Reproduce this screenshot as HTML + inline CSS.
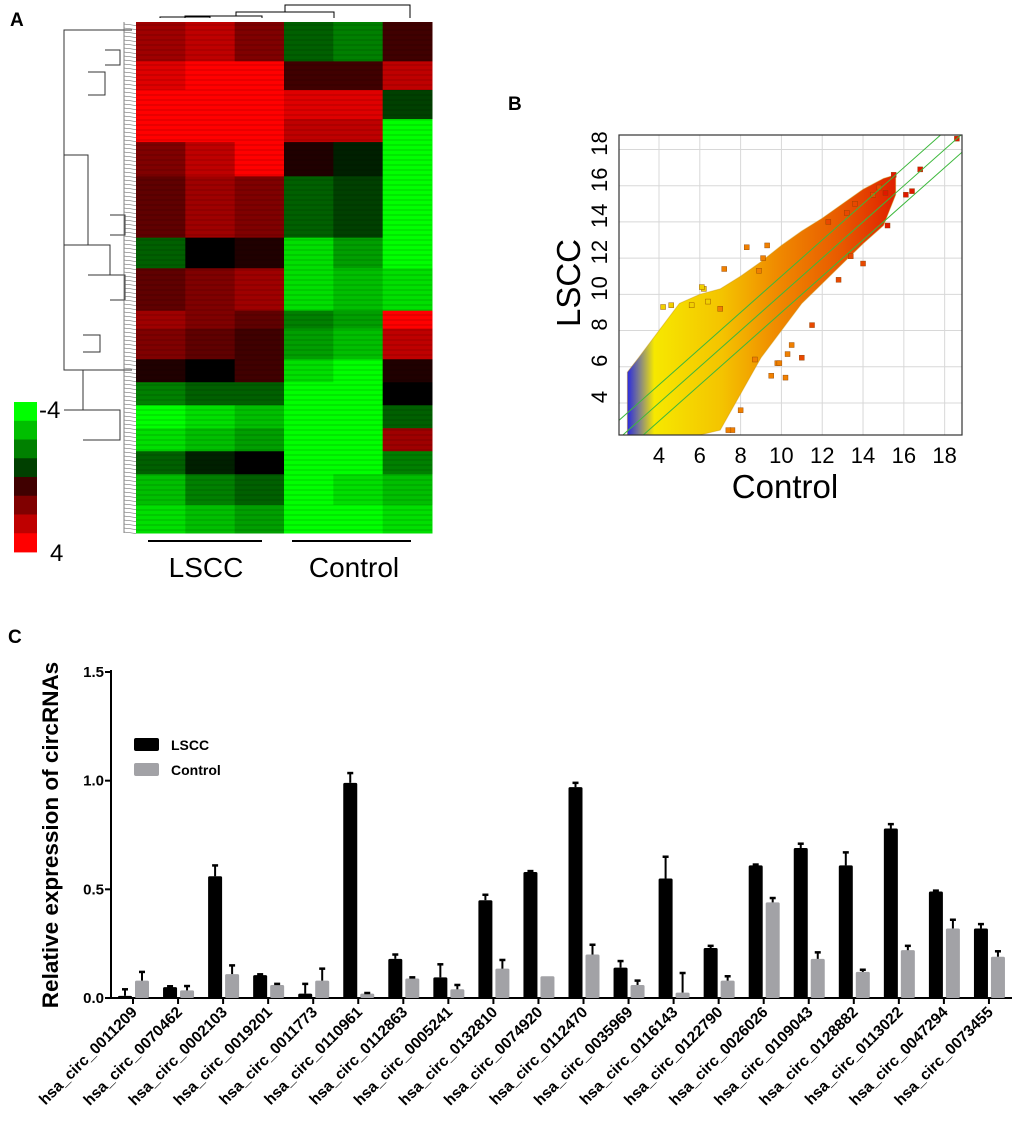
<!DOCTYPE html>
<html><head><meta charset="utf-8"><style>
html,body{margin:0;padding:0;background:#fff;}
svg{display:block;font-family:"Liberation Sans",Arial,sans-serif;}
</style></head><body>
<svg id="fig" width="1020" height="1124" viewBox="0 0 1020 1124">
<text x="10" y="26" font-size="19" font-weight="bold">A</text>
<text x="508" y="110" font-size="19" font-weight="bold">B</text>
<text x="8" y="643" font-size="19" font-weight="bold">C</text>
<g id="heat"></g>
<g id="scatter"></g>
<g id="bars"></g>
</svg>
<script>
const NS="http://www.w3.org/2000/svg";
function mk(parent,tag,attrs,name,txt){const e=document.createElementNS(NS,tag);for(const k in attrs)e.setAttribute(k,attrs[k]);


if(txt!==undefined)e.textContent=txt;parent.appendChild(e);return e;}

/* ---------------- Heatmap ---------------- */
const heatBlockStart=[0,0.077,0.133,0.19,0.235,0.302,0.422,0.482,0.565,0.6,0.66,0.705,0.75,0.795,0.84,0.885,0.945];
const heatValues=[
[2.5,3,2,-1.5,-2,1],
[3.5,4,4,1,1,3],
[4,4,4,3.5,3.5,-1],
[4,4,4,3,3,-4],
[2,3,4,0.5,-0.5,-4],
[1.5,2.5,2,-1.5,-1,-4],
[-1.5,0,0.5,-3.5,-2.5,-4],
[1.5,2,2.5,-3.5,-3,-3.5],
[2.5,2,1.5,-2,-2.5,4],
[2,1.5,1,-2.5,-3,3],
[0.5,0,1,-3.5,-4,0.5],
[-2,-1.5,-1.5,-4,-4,0],
[-4,-3.5,-3,-4,-4,-1.5],
[-3.5,-3,-2.5,-4,-4,2.5],
[-1.5,-0.5,0,-4,-4,-2],
[-3,-2,-1.5,-4,-3.5,-3],
[-3.5,-3,-2.5,-4,-4,-3.5]];
const colorbarLevels=[-4,-3,-2,-1,1,2,3,4];
function heatColor(v){v=Math.max(-4,Math.min(4,v));
 if(v<0){const g=Math.round(255*(-v/4));return `rgb(0,${g},0)`;}
 const r=Math.round(255*(v/4));return `rgb(${r},0,0)`;}
(function(){
 const g=document.getElementById('heat');
 const X0=136,X1=432,Y0=22,Y1=533,cw=(X1-X0)/6,H=Y1-Y0;
 heatValues.forEach((row,i)=>{
  const y=Y0+heatBlockStart[i]*H;
  const yn=Y0+(i+1<heatBlockStart.length?heatBlockStart[i+1]:1)*H;
  row.forEach((v,j)=>{
   mk(g,'rect',{x:X0+j*cw,y:y,width:cw+0.5,height:yn-y+0.5,fill:heatColor(v)},'heatmap-cell');
  });
 });
 for(let y=Y0+3;y<Y1;y+=5){mk(g,'line',{x1:X0,x2:X1,y1:y,y2:y,stroke:'#000','stroke-opacity':0.18,'stroke-width':1},'heatmap-row-texture');}
 const top=[[185,18,185,16,262,16,262,18],[236,16,236,12,334,12,334,18],[285,12,285,5,410,5,410,18],[160,18,160,17,210,17,210,18]];
 top.forEach(p=>mk(g,'polyline',{points:`${p[0]},${p[1]} ${p[2]},${p[3]} ${p[4]},${p[5]} ${p[6]},${p[7]}`,fill:'none',stroke:'#000','stroke-width':1},'column-dendrogram'));
 const L=[[132,30,64,155,132,370],[88,72,105,50,105,95],[64,155,88,72,88,245],[88,245,110,215,110,275],[64,370,83,335,83,410],[83,335,100,318,100,352],[83,410,120,390,120,440],[105,50,120,35,120,65],[110,215,125,190,125,235],[110,275,125,265,125,300]];
 L.forEach(p=>mk(g,'polyline',{points:`${p[0]+0},${p[1]} ${p[2]},${p[1]} ${p[2]},${p[5]} ${p[0]},${p[5]}`,fill:'none',stroke:'#333','stroke-width':1},'row-dendrogram'));
 for(let y=Y0+2;y<Y1;y+=4){mk(g,'line',{x1:124,x2:136,y1:y,y2:y+1.5,stroke:'#555','stroke-width':0.6},'row-dendrogram-leaf');}
 mk(g,'line',{x1:124,x2:124,y1:Y0,y2:Y1,stroke:'#666','stroke-width':0.8},'row-dendrogram-leaf');
 const cbX=14,cbY=402,cbH=150/8;
 colorbarLevels.forEach((v,i)=>mk(g,'rect',{x:cbX,y:cbY+i*cbH,width:23,height:cbH+0.4,fill:heatColor(v)},'colorbar-swatch'));
 mk(g,'text',{x:39,y:418,'font-size':24},'colorbar-min-label','-4');
 mk(g,'text',{x:50,y:561,'font-size':24},'colorbar-max-label','4');
 mk(g,'line',{x1:148,x2:262,y1:541,y2:541,stroke:'#000','stroke-width':2},'lscc-group-bar');
 mk(g,'line',{x1:292,x2:411,y1:541,y2:541,stroke:'#000','stroke-width':2},'control-group-bar');
 mk(g,'text',{x:206,y:577,'font-size':28,'text-anchor':'middle'},'lscc-group-label','LSCC');
 mk(g,'text',{x:354,y:577,'font-size':28,'text-anchor':'middle'},'control-group-label','Control');
})();

/* ---------------- Scatter ---------------- */
const bandX=[2.45,3,4,5,6,7,8,9,10,11,12,13,14,15,15.6];
const bandUpper=[5.7,6.5,8,9.5,10,10.3,11,11.8,12.7,13.5,14.2,15,15.8,16.4,16.6];
const bandLower=[2.23,2.23,2.23,2.23,2.23,2.5,4.5,6.5,8,9.5,10.6,11.7,12.8,13.8,15.5];
const outX=[6.2,6.1,7.2,8.3,9.3,9.5,10.2,10.5,9.8,11.5,12.8,13.4,14,15.2,16.1,16.4,16.8,18.6,15.5,15.1,14.8,13.2,8.0,7.6,7.4,8.7,9.9,10.3,11.0,5.6,6.4,7.0,8.9,9.1,12.3,13.6,14.5,4.2,4.6];
const outY=[10.3,10.4,11.4,12.6,12.7,5.5,5.4,7.2,6.2,8.3,10.8,12.1,11.7,13.8,15.5,15.7,16.9,18.6,16.6,15.6,15.9,14.5,3.6,2.5,2.5,6.4,6.2,6.7,6.5,9.4,9.6,9.2,11.3,12.0,14.0,15.0,15.5,9.3,9.4];
const scXTicks=[4,6,8,10,12,14,16,18];
const scYTicks=[4,6,8,10,12,14,16,18];
(function(){
 const g=document.getElementById('scatter');
 const PX0=619,PX1=962,PY0=135,PY1=435;
 const xmin=2.04,xmax=18.85,ymin=2.23,ymax=18.8;
 const sx=v=>PX0+(v-xmin)/(xmax-xmin)*(PX1-PX0);
 const sy=v=>PY1-(v-ymin)/(ymax-ymin)*(PY1-PY0);
 const defs=mk(g,'defs',{},'scatter-defs');
 const lg=mk(defs,'linearGradient',{id:'bandGrad',x1:0,x2:1,y1:0,y2:0},'band-gradient');
 [[0,'#2a2ae0'],[0.05,'#8a8a80'],[0.1,'#f6e800'],[0.35,'#f4c400'],[0.55,'#f08c00'],[0.8,'#e85800'],[1,'#e02000']].forEach(s=>mk(lg,'stop',{offset:s[0],'stop-color':s[1]},'gradient-stop'));
 const cp=mk(defs,'clipPath',{id:'plotClip'},'plot-clip');
 mk(cp,'rect',{x:PX0,y:PY0,width:PX1-PX0,height:PY1-PY0},'plot-clip-rect');
 mk(g,'rect',{x:PX0,y:PY0,width:PX1-PX0,height:PY1-PY0,fill:'#fff'},'plot-background');
 scXTicks.forEach(t=>{mk(g,'line',{x1:sx(t),x2:sx(t),y1:PY0,y2:PY1,stroke:'#d8d8d8'},'x-gridline');
  mk(g,'text',{x:sx(t),y:PY1+28,'font-size':22,'text-anchor':'middle'},'x-tick-label',t);});
 scYTicks.forEach(t=>{mk(g,'line',{x1:PX0,x2:PX1,y1:sy(t),y2:sy(t),stroke:'#d8d8d8'},'y-gridline');
  mk(g,'text',{x:PX0-6,y:sy(t),'font-size':22,'text-anchor':'middle',transform:`rotate(-90 ${PX0-12} ${sy(t)})`},'y-tick-label',t);});
 const cg=mk(g,'g',{'clip-path':'url(#plotClip)'},'scatter-points');
 let pts=bandX.map((x,i)=>`${sx(x)},${sy(bandUpper[i])}`);
 for(let i=bandX.length-1;i>=0;i--)pts.push(`${sx(bandX[i])},${sy(bandLower[i])}`);
 mk(cg,'polygon',{points:pts.join(' '),fill:'url(#bandGrad)',stroke:'#c89000','stroke-opacity':0.4},'point-cloud');
 outX.forEach((x,i)=>{const c=x<7?'#f0d000':x<11?'#f08000':x<15?'#e84800':'#e01800';
  mk(cg,'rect',{x:sx(x)-2.5,y:sy(outY[i])-2.5,width:5,height:5,fill:c,stroke:'#8a4000','stroke-width':0.4},'outlier-point');});
 [-1,0,1].forEach(o=>mk(cg,'line',{x1:sx(xmin),y1:sy(xmin+o),x2:sx(xmax),y2:sy(xmax+o),stroke:'#3cb83c','stroke-width':1},'fold-change-line'));
 mk(g,'rect',{x:PX0,y:PY0,width:PX1-PX0,height:PY1-PY0,fill:'none',stroke:'#333','stroke-width':1.2},'plot-frame');
 mk(g,'text',{x:785,y:498,'font-size':33,'text-anchor':'middle'},'x-axis-title','Control');
 mk(g,'text',{x:0,y:0,'font-size':33,'text-anchor':'middle',transform:'translate(580 283) rotate(-90)'},'y-axis-title','LSCC');
})();

/* ---------------- Bar chart ---------------- */
const circNames=["hsa_circ_0011209","hsa_circ_0070462","hsa_circ_0002103","hsa_circ_0019201","hsa_circ_0011773","hsa_circ_0110961","hsa_circ_0112863","hsa_circ_0005241","hsa_circ_0132810","hsa_circ_0074920","hsa_circ_0112470","hsa_circ_0035969","hsa_circ_0116143","hsa_circ_0122790","hsa_circ_0026026","hsa_circ_0109043","hsa_circ_0128882","hsa_circ_0113022","hsa_circ_0047294","hsa_circ_0073455"];
const lsccValues=[0.01,0.05,0.56,0.105,0.02,0.99,0.18,0.095,0.45,0.58,0.97,0.14,0.55,0.23,0.61,0.69,0.61,0.78,0.49,0.32];
const lsccErrors=[0.03,0.004,0.05,0.004,0.045,0.045,0.02,0.06,0.025,0.004,0.02,0.03,0.1,0.01,0.004,0.02,0.06,0.02,0.004,0.02];
const controlValues=[0.08,0.035,0.11,0.06,0.08,0.02,0.09,0.04,0.135,0.10,0.20,0.06,0.025,0.08,0.44,0.18,0.12,0.22,0.32,0.19];
const controlErrors=[0.04,0.02,0.04,0.005,0.055,0.003,0.005,0.02,0.04,0,0.045,0.02,0.09,0.02,0.02,0.03,0.01,0.02,0.04,0.025];
const barYTicks=[0,0.5,1.0,1.5];
(function(){
 const g=document.getElementById('bars');
 const AX=111,Y0=998,Y15=672,XR=1012;
 const sy=v=>Y0-v/1.5*(Y0-Y15);
 const cx=i=>133+i*45.05;
 mk(g,'line',{x1:AX,x2:AX,y1:Y15-2,y2:Y0+1,stroke:'#000','stroke-width':2},'y-axis');
 mk(g,'line',{x1:AX,x2:XR,y1:Y0,y2:Y0,stroke:'#000','stroke-width':2},'x-axis');
 barYTicks.forEach(t=>{mk(g,'line',{x1:AX-6,x2:AX,y1:sy(t),y2:sy(t),stroke:'#000','stroke-width':2},'y-tick');
  mk(g,'text',{x:AX-7,y:sy(t)+5,'font-size':15,'font-weight':'bold','text-anchor':'end'},'y-tick-label',t.toFixed(1));});
 mk(g,'text',{x:0,y:0,'font-size':22.5,'font-weight':'bold','text-anchor':'middle',transform:'translate(58 835) rotate(-90)'},'y-axis-title','Relative expression of circRNAs');
 function bar(x,w,v,e,fill,name){
  mk(g,'rect',{x:x,y:sy(v),width:w,height:Y0-sy(v),fill:fill,rx:1.5},name);
  if(e>0.001){const m=x+w/2;
   mk(g,'line',{x1:m,x2:m,y1:sy(v),y2:sy(v+e),stroke:'#000','stroke-width':2},name+'-error');
   mk(g,'line',{x1:m-3,x2:m+3,y1:sy(v+e),y2:sy(v+e),stroke:'#000','stroke-width':2.5},name+'-error-cap');}
 }
 circNames.forEach((n,i)=>{
  const c=cx(i);
  bar(c-15,14,lsccValues[i],lsccErrors[i],'#000','lscc-bar');
  bar(c+2,14,controlValues[i],controlErrors[i],'#a2a2a6','control-bar');
  mk(g,'line',{x1:c,x2:c,y1:Y0,y2:Y0+6,stroke:'#000','stroke-width':2},'x-tick');
  mk(g,'text',{x:0,y:0,'font-size':15.5,'font-weight':'bold','text-anchor':'end',transform:`translate(${c+5} ${Y0+15}) rotate(-45)`},'x-tick-label',n);
 });
 mk(g,'rect',{x:134,y:738,width:25,height:13,fill:'#000',rx:2},'legend-swatch-lscc');
 mk(g,'text',{x:171,y:750,'font-size':14,'font-weight':'bold'},'legend-label-lscc','LSCC');
 mk(g,'rect',{x:134,y:763,width:25,height:13,fill:'#a2a2a6',rx:2},'legend-swatch-control');
 mk(g,'text',{x:171,y:775,'font-size':14,'font-weight':'bold'},'legend-label-control','Control');
})();
</script>
</body></html>
